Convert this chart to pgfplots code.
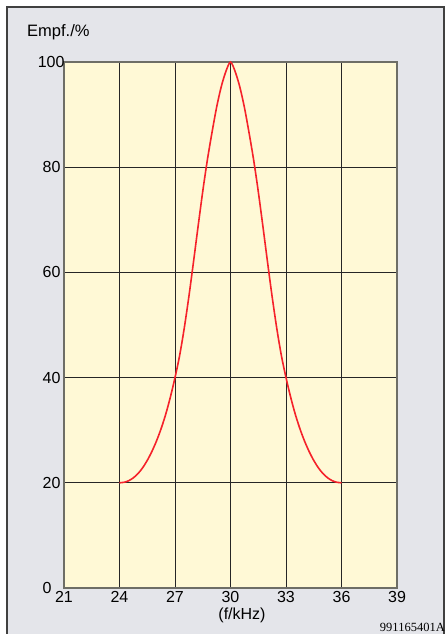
\documentclass[border=0pt]{standalone}
\usepackage{pgfplots}
\pgfplotsset{compat=1.18}
\usepackage{fontspec}
\setmainfont{Liberation Sans}
\newfontfamily\seriffont{Liberation Serif}
\definecolor{framebg}{HTML}{E4E5EA}
\definecolor{plotbg}{HTML}{FFF9D6}
\definecolor{curvered}{HTML}{F5222A}
\definecolor{axisgray}{HTML}{6E6E66}
\begin{document}
\begin{tikzpicture}
\useasboundingbox (0pt,0pt) rectangle (445pt,634pt);
\fill[white] (0pt,0pt) rectangle (445pt,634pt);
\draw[fill=framebg, draw=black!75, line width=1.6pt] (7pt,-10pt) rectangle (444pt,627pt);
\node[anchor=base west, font=\fontsize{16.5}{18}\selectfont, inner sep=0pt] at (27pt,597pt) {Empf./\%};
\begin{axis}[
  at={(64pt,46pt)}, anchor=south west,
  scale only axis, width=333pt, height=526pt,
  xmin=21, xmax=39, ymin=0, ymax=100,
  xtick={21,24,27,30,33,36,39},
  ytick={0,20,40,60,80,100},
  yticklabels={{\raisebox{-3pt}{0}\hspace*{9pt}},20,40,60,80,{100\hspace*{-4pt}}},
  major tick length=0pt,
  grid=major,
  major grid style={draw=black!85, line width=0.9pt},
  axis line style={draw=axisgray, line width=1.4pt},
  axis background/.style={fill=plotbg},
  ticklabel style={font=\fontsize{16}{18}\selectfont},
  /pgf/number format/assume math mode=true,
  clip=false,
]
\addplot[curvered, line width=1.6pt, smooth] coordinates {
(24.00,20.0) (24.25,20.1) (24.50,20.4) (24.75,20.95) (25.00,21.75) (25.25,22.85)
(25.50,24.25) (25.75,25.95) (26.00,27.95) (26.25,30.3) (26.50,33.05) (26.75,36.3)
(27.00,40.0) (27.25,44.2) (27.50,49.4) (27.75,55.4) (28.00,62.0) (28.25,68.8)
(28.50,75.4) (28.75,81.4) (29.00,86.6) (29.25,91.4) (29.50,95.3) (29.75,98.2)
(30.00,100)
(30.25,98.2) (30.50,95.3) (30.75,91.4) (31.00,86.6) (31.25,81.4) (31.50,75.4)
(31.75,68.8) (32.00,62.0) (32.25,55.4) (32.50,49.4) (32.75,44.2) (33.00,40.0)
(33.25,36.3) (33.50,33.05) (33.75,30.3) (34.00,27.95) (34.25,25.95) (34.50,24.25)
(34.75,22.85) (35.00,21.75) (35.25,20.95) (35.50,20.4) (35.75,20.1) (36.00,20.0)
};
\end{axis}
\node[anchor=center, font=\fontsize{16}{18}\selectfont] at (242pt,19pt) {(f/kHz)};
\node[anchor=base east, font=\seriffont\fontsize{12.5}{14}\selectfont, inner sep=0pt] at (445pt,2pt) {991165401A};
\end{tikzpicture}
\end{document}
